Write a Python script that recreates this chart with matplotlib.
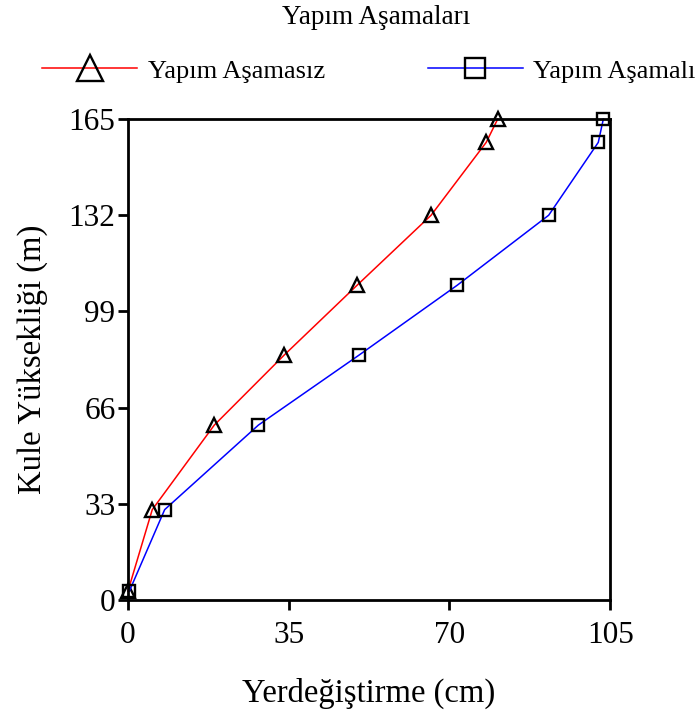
import matplotlib.pyplot as plt

# kule yuksekligi (m)
yukseklik = [3, 31, 60, 84, 108, 132, 157, 165]
# yerdegistirme (cm)
asamasiz = [0, 5.3, 18.8, 34.0, 49.9, 66.0, 78.0, 80.5]
asamali = [0.3, 8.0, 28.4, 50.3, 71.7, 91.6, 102.4, 103.5]

xticks = [0, 35, 70, 105]
yticks = [0, 33, 66, 99, 132, 165]

plt.rcParams['font.family'] = ['Liberation Serif', 'DejaVu Serif']

fig = plt.figure(figsize=(6.99, 7.13), dpi=100)
ax = fig.add_axes([0.183, 0.1585, 0.69, 0.6745])

ax.plot(asamasiz, yukseklik, color='red', lw=1.1, marker='^', ms=10.5,
        mfc='none', mec='black', mew=1.7, label='Yapım Aşamasız', clip_on=False)
ax.plot(asamali, yukseklik, color='blue', lw=1.1, marker='s', ms=8,
        mfc='none', mec='black', mew=1.7, label='Yapım Aşamalı', clip_on=False)

ax.set_xlim(0, 105)
ax.set_ylim(0, 165)
ax.set_xticks(xticks)
ax.set_yticks(yticks)
ax.tick_params(labelsize=22.5, width=2, length=7, direction='out', pad=2)
ax.tick_params(axis='x', pad=8)
for s in ax.spines.values():
    s.set_linewidth(2)

ax.set_xlabel('Yerdeğiştirme (cm)', fontsize=23.5, labelpad=20)
ax.set_ylabel('Kule Yüksekliği (m)', fontsize=23.5, labelpad=15)

fig.text(376 / 699, 1 - 18 / 713, 'Yapım Aşamaları', fontsize=19.5,
         ha='center', va='center')
leg = fig.legend(loc='center left', bbox_to_anchor=(42 / 699, 1 - 71 / 713),
                 ncol=2, frameon=False, fontsize=19, markerscale=1.75,
                 handlelength=3.6, columnspacing=3.9, handletextpad=0.4,
                 borderpad=0, borderaxespad=0)

fig.savefig('out.png', dpi=100)
